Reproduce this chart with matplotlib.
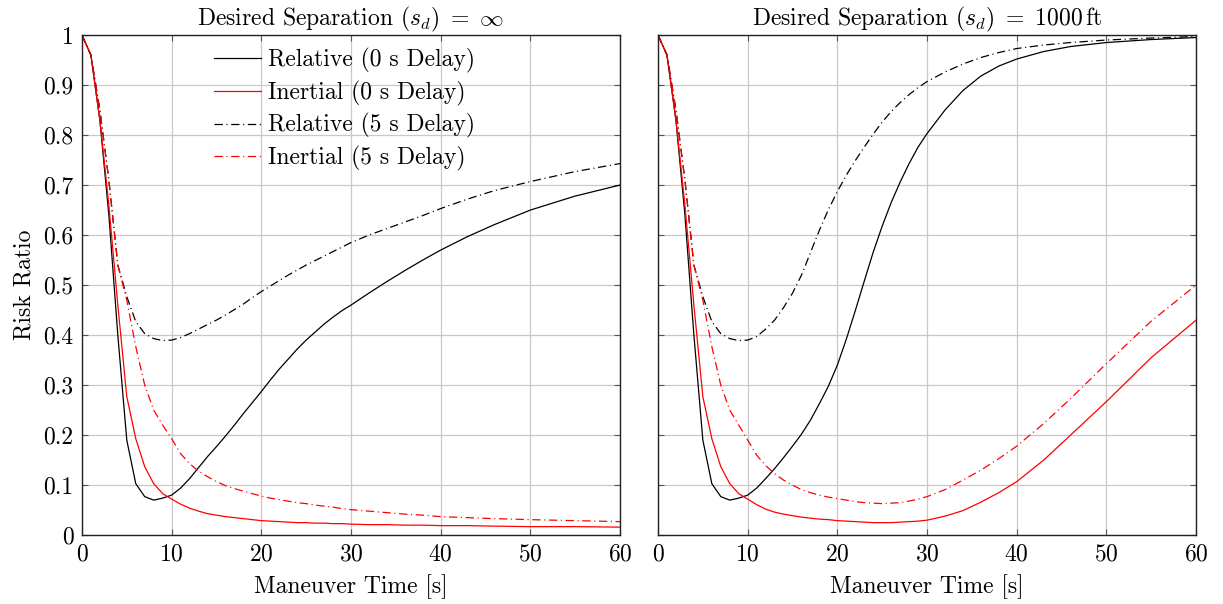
import matplotlib
matplotlib.use("Agg")
from matplotlib import pyplot as plt

# maneuver time samples [s]
t = [0, 1, 2, 3, 4, 5, 6, 7, 8, 9, 10, 11, 12, 13, 14, 15, 16, 17, 18, 19,
     20, 21, 22, 23, 24, 25, 26, 27, 28, 29, 30, 32, 34, 36, 38, 40, 43, 46,
     50, 55, 60]

# desired separation = infinity
rel0_inf = [1.0, 0.96, 0.83, 0.64, 0.40, 0.19, 0.103, 0.077, 0.07, 0.074,
            0.08, 0.094, 0.113, 0.135, 0.157, 0.177, 0.198, 0.22, 0.243, 0.265,
            0.287, 0.31, 0.332, 0.352, 0.372, 0.39, 0.406, 0.422, 0.436, 0.449,
            0.46, 0.484, 0.507, 0.529, 0.55, 0.57, 0.597, 0.621, 0.65, 0.678,
            0.70]
in0_inf = [1.0, 0.96, 0.83, 0.66, 0.46, 0.277, 0.193, 0.137, 0.103, 0.083,
           0.072, 0.062, 0.054, 0.048, 0.043, 0.04, 0.037, 0.035, 0.033, 0.031,
           0.029, 0.028, 0.027, 0.026, 0.025, 0.025, 0.024, 0.024, 0.023, 0.023,
           0.022, 0.021, 0.021, 0.02, 0.02, 0.019, 0.019, 0.018, 0.017, 0.017,
           0.016]
rel5_inf = [1.0, 0.96, 0.85, 0.71, 0.54, 0.477, 0.427, 0.403, 0.393, 0.389,
            0.39, 0.395, 0.403, 0.412, 0.421, 0.43, 0.44, 0.451, 0.462, 0.475,
            0.487, 0.498, 0.509, 0.52, 0.53, 0.54, 0.549, 0.558, 0.567, 0.576,
            0.585, 0.6, 0.613, 0.626, 0.639, 0.653, 0.672, 0.689, 0.707, 0.727,
            0.743]
in5_inf = [1.0, 0.96, 0.85, 0.71, 0.54, 0.47, 0.377, 0.30, 0.25, 0.22,
           0.193, 0.163, 0.143, 0.128, 0.117, 0.107, 0.099, 0.093, 0.088, 0.083,
           0.078, 0.074, 0.071, 0.068, 0.065, 0.063, 0.06, 0.058, 0.056, 0.053,
           0.051, 0.048, 0.045, 0.042, 0.04, 0.037, 0.035, 0.033, 0.031, 0.029,
           0.027]

# desired separation = 1000 ft
rel0_1000 = [1.0, 0.96, 0.83, 0.64, 0.40, 0.19, 0.103, 0.077, 0.07, 0.074,
             0.08, 0.094, 0.113, 0.133, 0.155, 0.178, 0.202, 0.23, 0.263, 0.298,
             0.34, 0.392, 0.449, 0.508, 0.566, 0.618, 0.665, 0.706, 0.743, 0.776,
             0.803, 0.85, 0.889, 0.918, 0.938, 0.952, 0.967, 0.977, 0.985, 0.991,
             0.995]
in0_1000 = [1.0, 0.96, 0.83, 0.66, 0.46, 0.277, 0.193, 0.137, 0.103, 0.083,
            0.072, 0.061, 0.052, 0.046, 0.042, 0.039, 0.036, 0.034, 0.032, 0.031,
            0.029, 0.028, 0.027, 0.026, 0.025, 0.025, 0.025, 0.026, 0.027, 0.028,
            0.03, 0.038, 0.049, 0.066, 0.085, 0.107, 0.15, 0.2, 0.267, 0.355,
            0.43]
rel5_1000 = [1.0, 0.96, 0.85, 0.71, 0.54, 0.477, 0.427, 0.403, 0.393, 0.389,
             0.39, 0.397, 0.412, 0.43, 0.455, 0.484, 0.52, 0.565, 0.61, 0.651,
             0.687, 0.72, 0.749, 0.776, 0.802, 0.826, 0.847, 0.865, 0.881, 0.895,
             0.907, 0.926, 0.942, 0.955, 0.965, 0.973, 0.98, 0.985, 0.99, 0.994,
             0.997]
in5_1000 = [1.0, 0.96, 0.85, 0.71, 0.54, 0.47, 0.377, 0.30, 0.25, 0.22,
            0.19, 0.16, 0.139, 0.123, 0.11, 0.1, 0.091, 0.085, 0.08, 0.076,
            0.073, 0.07, 0.067, 0.065, 0.064, 0.063, 0.064, 0.065, 0.068, 0.072,
            0.077, 0.091, 0.11, 0.13, 0.153, 0.178, 0.223, 0.273, 0.343, 0.428,
            0.50]

labels = ["Relative (0 s Delay)", "Inertial (0 s Delay)",
          "Relative (5 s Delay)", "Inertial (5 s Delay)"]
titles = [r"Desired Separation $(s_d)\ =\ \infty$",
          r"Desired Separation $(s_d)\ =\ 1000\,\mathrm{ft}$"]
x_ticks = [0, 10, 20, 30, 40, 50, 60]
y_ticks = [0, 0.1, 0.2, 0.3, 0.4, 0.5, 0.6, 0.7, 0.8, 0.9, 1]

plt.rcParams['font.family'] = 'serif'
plt.rcParams['font.serif'] = ['cmr10']
plt.rcParams['mathtext.fontset'] = 'cm'
plt.rcParams['axes.formatter.use_mathtext'] = True
plt.rcParams['lines.scale_dashes'] = False

fs = 17

fig, axes = plt.subplots(1, 2, figsize=(12.23, 6.04), dpi=100, sharey=True)
fig.subplots_adjust(left=0.067, right=0.978, bottom=0.114, top=0.942,
                    wspace=0.0706)

dashdot = (0, (6, 2.6, 0.8, 2.6))
series = [(rel0_inf, in0_inf, rel5_inf, in5_inf),
          (rel0_1000, in0_1000, rel5_1000, in5_1000)]

for ax, data, title in zip(axes, series, titles):
    rel0, in0, rel5, in5 = data
    ax.plot(t, rel0, color='black', lw=0.9, label=labels[0])
    ax.plot(t, in0, color='red', lw=0.9, label=labels[1])
    ax.plot(t, rel5, color='black', lw=0.9, ls=dashdot, label=labels[2])
    ax.plot(t, in5, color='red', lw=0.9, ls=dashdot, label=labels[3])

    ax.set_xlim(0, 60)
    ax.set_ylim(0, 1)
    ax.set_xticks(x_ticks)
    ax.set_yticks(y_ticks)
    ax.set_yticklabels(['{:g}'.format(v) for v in y_ticks])
    ax.grid(True, color='#c8c8c8', lw=0.9)
    ax.set_axisbelow(True)
    ax.tick_params(direction='in', length=4, width=0.8, color='#555555',
                   top=True, right=True, labelsize=fs, pad=6)
    for s in ax.spines.values():
        s.set_linewidth(1.0)
        s.set_color('#222222')
    ax.set_title(title, fontsize=fs, pad=7)
    ax.set_xlabel('Maneuver Time [s]', fontsize=fs, labelpad=6)

axes[0].set_ylabel('Risk Ratio', fontsize=fs, labelpad=6)
axes[1].tick_params(labelleft=False)

axes[0].legend(loc='upper left', bbox_to_anchor=(0.245, 0.974), frameon=False,
               fontsize=fs, borderpad=0, borderaxespad=0, handlelength=2.0,
               handletextpad=0.3, labelspacing=0.32)

plt.savefig('out.png', dpi=100)
